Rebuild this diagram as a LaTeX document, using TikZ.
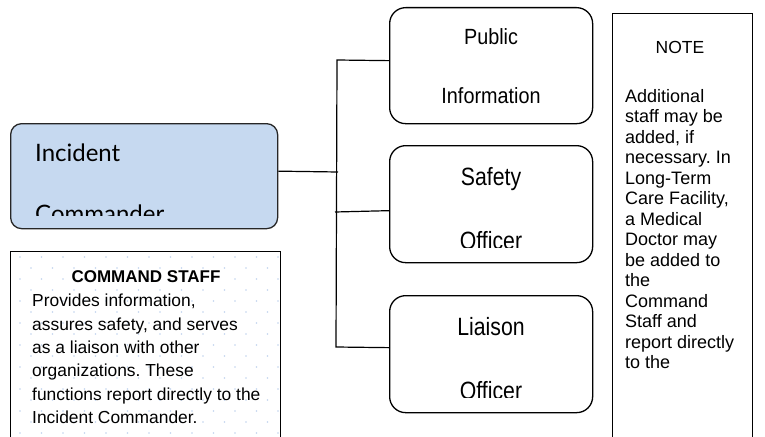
\documentclass[tikz,border=0pt]{standalone}
\usepackage{fontspec}
\setmainfont{Liberation Sans}
\newfontfamily\icfont{Lato}
\definecolor{icblue}{HTML}{C6D9F0}
\definecolor{dotblue}{HTML}{C2D4EE}
\newcommand{\hsq}[2]{\scalebox{#1}[1]{#2}}
\frenchspacing
\begin{document}
\begin{tikzpicture}[x=1pt,y=-1pt,
  conn/.style={draw=black, line width=1.2pt},
  rbox/.style={draw=black, line width=1.3pt, rounded corners=16pt, fill=white, minimum width=203pt, minimum height=117pt, inner sep=0pt, anchor=north west},
  sqbox/.style={draw=black, line width=1.3pt, fill=white, inner sep=0pt, anchor=north west},
  boxtxt/.style={anchor=base, inner sep=0pt, font=\fontsize{25}{25}\selectfont},
  pubtxt/.style={anchor=base, inner sep=0pt, font=\fontsize{22}{22}\selectfont},
  ictxt/.style={anchor=base west, inner sep=0pt, font=\icfont\fontsize{24}{24}\selectfont},
  bodytxt/.style={anchor=north west, inner sep=0pt, align=left}
]
\useasboundingbox (0,0) rectangle (765,436);
\clip (0,0) rectangle (765,436);

% Incident Commander
\node[draw=black!85, line width=1.3pt, rounded corners=11pt, fill=icblue, minimum width=267pt, minimum height=105pt, inner sep=0pt, anchor=north west] (ic) at (10,123) {};
\begin{scope}
  \clip (12,125) rectangle (275,215);
  \node[ictxt] (ict1) at (35,161) {Incident};
  \node[ictxt] (ict2) at (35,222) {Commander};
\end{scope}

% Right boxes
\node[rbox, minimum height=116pt] (pub) at (389,7) {};
\node[rbox] (saf) at (389,145) {};
\node[rbox] (lia) at (389,295) {};

\node[pubtxt] (pubt1) at (491,45) {\hsq{0.9}{Public}};
\node[pubtxt] (pubt2) at (491,103) {\hsq{0.9}{Information}};
\begin{scope}
  \clip (391,147) rectangle (590,247);
  \node[boxtxt] (saft1) at (491,185.5) {\hsq{0.85}{Safety}};
  \node[boxtxt] (saft2) at (491,249.5) {\hsq{0.85}{Officer}};
\end{scope}
\begin{scope}
  \clip (391,297) rectangle (590,397);
  \node[boxtxt] (liat1) at (491,335.5) {\hsq{0.85}{Liaison}};
  \node[boxtxt] (liat2) at (491,399.5) {\hsq{0.85}{Officer}};
\end{scope}

% Connectors
\coordinate (jic) at (338,172);
\coordinate (jtop) at (337,60);
\coordinate (jbot) at (336,347);
\coordinate (jsaf) at (335,212);
\draw[conn] ([yshift=5pt]ic.east) -- (jic);
\draw[conn] ([yshift=5pt]pub.west) -- (jtop) -- (jbot) -- ([yshift=6.5pt]lia.west);
\draw[conn] (jsaf) -- ([yshift=-6.5pt]saf.west);

% Command staff box
\node[sqbox, minimum width=270pt, minimum height=200pt] (cs) at (10,251) {};
\begin{scope}
  \clip (11,252) rectangle (279,450);
  \foreach \r in {0,...,17} {
    \pgfmathsetmacro{\yy}{257+11*\r}
    \pgfmathsetmacro{\xo}{mod(\r,2)==0 ? 20 : 31}
    \foreach \c in {0,...,12} {
      \fill[dotblue] ({\xo+21.5*\c},\yy) circle (0.9pt);
    }
  }
\end{scope}
\node[anchor=base, inner sep=0pt, font=\bfseries\fontsize{17}{17}\selectfont] (cst) at (146,282) {COMMAND STAFF};
\node[bodytxt, font=\fontsize{17.4}{23.3}\selectfont] (csb) at (32,294) {Provides information,\\assures safety, and serves\\as a liaison with other\\organizations. These\\functions report directly to the\\Incident Commander.};

% Note box
\node[sqbox, minimum width=140pt, minimum height=440pt] (note) at (612,13) {};
\node[anchor=base, inner sep=0pt, font=\fontsize{17.5}{17.5}\selectfont] (notet) at (680,54) {NOTE};
\node[bodytxt, font=\fontsize{18}{20.5}\selectfont] (noteb) at (625,89) {Additional\\staff may be\\added, if\\necessary. In\\Long-Term\\Care Facility,\\a Medical\\Doctor may\\be added to\\the\\Command\\Staff and\\report directly\\to the};
\end{tikzpicture}
\end{document}
